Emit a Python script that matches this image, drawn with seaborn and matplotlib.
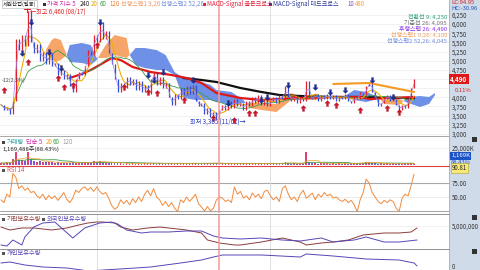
import numpy as np
import pandas as pd
import matplotlib
matplotlib.use("Agg")
import matplotlib.pyplot as plt
import seaborn as sns
from matplotlib.patches import Rectangle
from matplotlib.path import Path
from matplotlib.lines import Line2D

sns.set_theme(style="white")
plt.rcParams['font.family'] = ['Noto Sans CJK KR', 'DejaVu Sans']
plt.rcParams['axes.unicode_minus'] = False

# ---------------- data ----------------
close = [3800, 3650, 3720, 3550, 3900, 5600, 5300, 5700, 5400, 6350,
         5500, 5200, 5450, 5000, 5250, 4900, 5200, 4850, 4950, 4600,
         4750, 4500, 4650, 4300, 4150, 4500, 4700, 4600, 4850, 5300,
         5150, 5700, 5500, 6050, 5600, 5800, 5200, 4900, 4500, 4150,
         4400, 4250, 4550, 4350, 4500, 4200, 4450, 4150, 4350, 4100,
         4500, 4700, 4350, 4550, 4250, 4400, 4000, 3800, 4100, 3950,
         4250, 4050, 4300, 4100, 4350, 3900, 3750, 3850, 3550, 3700,
         3450, 3600, 3400, 3650, 3800, 3650, 3900, 3700, 3950, 3750,
         3850, 3650, 3900, 3750, 4000, 3850, 4050, 3800, 3950, 3750,
         3900, 4000, 3850, 4050, 3950, 4300, 4000, 3900, 4050, 3850,
         4000, 3900, 4450, 4000, 3950, 4100, 3900, 4050, 3950, 4100,
         3950, 4050, 3900, 4000, 3950, 4100, 3900, 3850, 4000, 3950,
         4150, 4050, 4300, 4400, 4150, 3950, 3750, 3850, 3950, 4050,
         3900, 3950, 3800, 3650, 3800, 3700, 3950, 4250, 4490]

volume_k = [3000, 2500, 4000, 3500, 9000, 19000, 8000, 7000, 6000, 19000,
            9000, 6000, 5000, 6500, 4500, 5000, 4000, 4500, 3500, 4000,
            3000, 3500, 2500, 3000, 4000, 3000, 2500, 3000, 4500, 5000,
            3500, 5500, 4000, 6000, 4500, 3500, 3000, 4000, 3500, 3000,
            2500, 2000, 2500, 2000, 3000, 2000, 2500, 2000, 2500, 3000,
            2500, 3500, 2000, 2500, 2000, 2000, 2500, 3000, 2000, 2500,
            2000, 2500, 2000, 2500, 3000, 2500, 2000, 2500, 3000, 2500,
            3500, 2500, 3000, 2000, 2500, 2000, 2500, 2000, 3000, 2500,
            2000, 2500, 2000, 2500, 2000, 2500, 2000, 2500, 2000, 2500,
            2000, 2500, 2000, 2500, 3500, 4500, 2500, 2000, 2500, 2000,
            2500, 3000, 19000, 5000, 3000, 2500, 2000, 2500, 3000, 2500,
            2000, 2500, 2000, 2500, 2000, 2500, 2000, 2500, 3000, 2500,
            3000, 3500, 5000, 4500, 3000, 2500, 2000, 2500, 2000, 2500,
            2000, 2500, 2000, 2500, 2000, 2500, 3000, 3500, 1169]

rsi14 = [45, 40, 55, 50, 92, 85, 65, 70, 62, 66,
         58, 60, 52, 48, 55, 45, 53, 47, 52, 44,
         50, 58, 46, 40, 48, 62, 58, 65, 68, 62,
         67, 60, 68, 60, 55, 58, 48, 35, 28, 32,
         45, 38, 44, 36, 47, 40, 50, 42, 55, 62,
         52, 65, 50, 45, 35, 42, 33, 40, 30, 24,
         45, 40, 50, 42, 48, 55, 38, 32, 25, 33,
         25, 30, 45, 50, 48, 42, 45, 40, 68, 55,
         60, 48, 52, 45, 57, 50, 55, 47, 60, 62,
         52, 45, 50, 42, 65, 70, 55, 45, 50, 42,
         55, 62, 48, 52, 57, 45, 55, 50, 58, 52,
         55, 48, 50, 45, 42, 46, 40, 44, 36, 24,
         45, 58, 82, 75, 58, 50, 42, 38, 44, 40,
         45, 42, 30, 24, 48, 55, 52, 70, 91]

ma120_session = [23, 27, 30, 33, 37, 40, 44, 50, 57, 62, 67, 72, 80, 87, 93, 100, 110, 120, 123, 130, 138]
ma120_value = [4528, 4638, 4747, 4884, 5075, 5020, 4829, 4692, 4610, 4528, 4392, 4118,
               3982, 3927, 3954, 3982, 4009, 4009, 3954, 3982, 4009]

ma240_session = [61, 67, 72, 80, 87, 93, 100, 110, 120, 130, 138]
ma240_value = [4528, 4474, 4419, 4255, 4146, 4064, 4036, 4009, 4009, 3982, 3982]

cloud_session = [15, 17, 18, 20, 22, 23, 27, 30, 32, 35, 38, 42, 43, 45, 48, 52, 55, 58, 61, 65,
                 70, 72, 77, 81, 83, 87, 92, 97, 100, 105, 110, 115, 118, 122, 126, 128, 133, 136,
                 140, 143, 145]
span1 = [5293, 5567, 5621, 5567, 5157, 4965, 4938, 4884, 5020, 5430, 5703, 5621, 5157, 4884,
         4801, 4747, 4747, 4610, 3982, 3927, 3927, 3872, 3790, 3845, 3845, 3845, 3818, 4118,
         4009, 3982, 4036, 4009, 3927, 3872, 3954, 3927, 3954, 3845, 3736, 3818, 4064]
span2 = [5239, 5075, 4965, 5020, 5157, 5430, 5485, 5430, 5075, 5075, 5157, 5075, 5157, 5348,
         5348, 5293, 5157, 4692, 4528, 4474, 4337, 4200, 4146, 3927, 3708, 3654, 3599, 3927,
         3927, 3927, 3982, 4036, 4200, 4146, 4009, 3818, 3790, 4009, 4036, 4009, 4118]

trend_session = [111, 123, 138]
trend_value = [4364, 4392, 4146]

dead_session = [10, 7, 16, 33, 20, 49, 51, 54, 64, 76, 87, 89, 96, 105, 110, 115, 124, 131]
dead_value = [6059, 5211, 5239, 6059, 4801, 4610, 4474, 4692, 4474, 3845, 3927, 4009, 4337,
              4282, 4146, 4200, 4474, 4009]
golden_session = [1, 9, 19, 21, 24, 32, 41, 49, 52, 61, 71, 78, 83, 85, 101, 109, 112, 120, 129, 133]
golden_value = [4200, 4965, 4528, 4282, 4337, 5430, 4282, 4146, 4118, 3927, 3435, 3380, 3572,
                3572, 3708, 3845, 3790, 3654, 3708, 3599]

inst_session = [0, 3, 7, 11, 17, 22, 26, 29, 32, 34, 38, 40, 44, 49, 53, 56, 62, 67, 69, 73,
                78, 80, 87, 94, 100, 102, 107, 111, 116, 121, 128, 133, 137, 139]
inst_value_m = [4.9, 4.6, 4.8, 4.8, 4.6, 4.8, 5.1, 5.3, 5.4, 5.4, 5.3, 4.9, 4.6, 4.8, 4.9, 4.8,
                4.6, 4.3, 3.6, 3.3, 3.1, 3.1, 3.4, 3.8, 3.4, 3.1, 3.3, 3.4, 3.6, 4.1, 4.3, 4.3,
                4.4, 4.8]
frgn_session = [0, 2, 4, 7, 8, 11, 14, 18, 21, 24, 28, 33, 37, 39, 42, 47, 50, 56, 62, 67,
                71, 74, 80, 87, 94, 100, 107, 111, 118, 122, 128, 133, 139]
frgn_value_m = [3.1, 3.0, 3.6, 3.1, 3.9, 4.9, 5.3, 5.4, 4.6, 3.8, 4.8, 5.3, 5.4, 5.2, 4.6, 4.3,
                4.4, 4.4, 4.5, 4.5, 4.0, 3.8, 3.7, 3.8, 3.6, 3.5, 3.8, 3.4, 3.6, 3.9, 3.4, 3.4, 3.6]
indiv_session = [0, 3, 8, 14, 22, 27, 33, 39, 45, 50, 60, 67, 71, 74, 78, 87, 100, 102, 111,
                 122, 133, 138, 139]
indiv_value_m = [0.6, 0.8, 0.2, -0.2, -0.4, -0.8, -1.4, -1.0, -0.4, -0.2, 0.6, 1.2, 1.8, 2.2,
                 2.2, 2.2, 1.8, 2.4, 2.0, 1.4, 1.2, 0.6, 0.0]

price_ticks = [3000, 3250, 3500, 3750, 4000, 4250, 4500, 4750, 5000, 5250, 5500, 5750, 6000, 6250]
hidden_price_ticks = [4250, 4500]
last_price = 4490
last_change = "0.11%"

# ---------------- figure ----------------
W, H = 480, 270
PANEL_X = 449
fig = plt.figure(figsize=(W / 100, H / 100), dpi=100)
fig.patch.set_facecolor('white')

fig.patches.append(Rectangle((PANEL_X / W, 0), 1 - PANEL_X / W, 1, transform=fig.transFigure,
                             facecolor='#cfdbe8', edgecolor='none', zorder=-5))
fig.lines.append(Line2D([PANEL_X / W, PANEL_X / W], [0, 1], transform=fig.transFigure,
                        color='#9fb0c4', lw=0.6, zorder=-4))


def add_ax(top, bottom):
    return fig.add_axes([0, 1 - bottom / H, PANEL_X / W, (bottom - top) / H])


def style(ax, ylim, ticks, labels):
    ax.set_xlim(-0.3, PANEL_X / 3)
    ax.set_ylim(*ylim)
    ax.set_facecolor('white')
    for sp in ax.spines.values():
        sp.set_visible(False)
    ax.set_xticks([])
    ax.yaxis.tick_right()
    ax.set_yticks(ticks)
    ax.set_yticklabels(labels)
    ax.tick_params(axis='y', length=0, pad=2.2, labelsize=4.4, labelcolor='#333333',
                   right=True, left=False, labelright=True, labelleft=False)
    ax.set_xlabel('')
    ax.set_ylabel('')


def vlines_common(ax):
    for s in (32, 90):
        ax.axvline(s, color='#d9d9d9', lw=0.6, zorder=0.5)
    ax.axvline(73, color='#f29a9a', lw=1.1, zorder=6)


df = pd.DataFrame({'s': np.arange(len(close)), 'close': close, 'vol': volume_k, 'rsi': rsi14})
df['prev'] = df['close'].shift(1).fillna(df['close'])
df['up'] = df['close'] >= df['prev']
df['ma5'] = df['close'].rolling(2, min_periods=1).mean()
df['ma20'] = df['close'].rolling(5, min_periods=1).mean()
df['ma60'] = df['close'].rolling(15, min_periods=1).mean()
df['vma5'] = df['vol'].rolling(5, min_periods=1).mean()
df['vma20'] = df['vol'].rolling(15, min_periods=1).mean()

# ---------------- main price panel ----------------
ax_p = add_ax(0, 136)
for t in price_ticks:
    ax_p.axhline(t, color='#ececec', lw=0.5, zorder=0)
vlines_common(ax_p)

c_s = np.array(cloud_session)
s1 = np.array(span1)
s2 = np.array(span2)
ax_p.fill_between(c_s, s1, s2, where=s1 >= s2, interpolate=True, color='#f6a468', lw=0, zorder=1)
ax_p.fill_between(c_s, s1, s2, where=s1 < s2, interpolate=True, color='#6e90e6', lw=0, zorder=1)

sns.lineplot(x=ma240_session, y=ma240_value, ax=ax_p, color='#111111', lw=1.6, legend=False, zorder=2)
sns.lineplot(x=ma120_session, y=ma120_value, ax=ax_p, color='#e01818', lw=1.6, legend=False, zorder=2)
sns.lineplot(data=df, x='s', y='ma60', ax=ax_p, color='#3c9c4a', lw=0.6, legend=False, zorder=2)
sns.lineplot(data=df, x='s', y='ma20', ax=ax_p, color='#f0b000', lw=0.8, legend=False, zorder=2)

colors = np.where(df['up'], '#e3202b', '#2a4fd6')
ax_p.vlines(df['s'], df['prev'], df['close'], colors=colors, lw=0.9, zorder=3)
sns.lineplot(data=df, x='s', y='ma5', ax=ax_p, color='#9d86e8', lw=0.5, legend=False, zorder=3)

sns.lineplot(x=trend_session, y=trend_value, ax=ax_p, color='#f59a23', lw=1.5, legend=False, zorder=4)

up_arrow = Path([(0, 1), (0.9, 0.1), (0.35, 0.1), (0.35, -1), (-0.35, -1), (-0.35, 0.1), (-0.9, 0.1), (0, 1)])
down_arrow = Path([(0, -1), (0.9, -0.1), (0.35, -0.1), (0.35, 1), (-0.35, 1), (-0.35, -0.1), (-0.9, -0.1), (0, -1)])
ax_p.plot(golden_session, golden_value, ls='none', marker=up_arrow, ms=4.2, color='#d0142a',
          mec='#a00010', mew=0.2, zorder=5)
ax_p.plot(dead_session, dead_value, ls='none', marker=down_arrow, ms=4.2, color='#1b2e9c',
          mec='#101c70', mew=0.2, zorder=5)

style(ax_p, (2943, 6660), price_ticks,
      ['' if t in hidden_price_ticks else f'{t:,}' for t in price_ticks])

ax_p.plot([8.7, 8.7], [6330, 6700], color='#e02020', lw=0.8, zorder=6)
ax_p.plot([7.7, 9.7], [6420, 6420], color='#e02020', lw=0.8, zorder=6)
ax_p.text(9.6, 6330, '←최고 6,460 (08/17)', color='#e02020', fontsize=4.4, va='center', ha='left', zorder=7)
ax_p.text(63.3, 3326, '최저 3,365 (11/01)→', color='#2030c0', fontsize=4.4, va='center', ha='left', zorder=7)
ax_p.text(0.2, 4474, '-12(2.3%)', color='#444444', fontsize=3.8, va='center', ha='left', zorder=7)

yt = ax_p.get_yaxis_transform()
ax_p.text(1.003, last_price, f'{last_price:,}', transform=yt, color='white', fontsize=4.6,
          fontweight='bold', va='center', ha='left',
          bbox=dict(boxstyle='square,pad=0.25', fc='#e01818', ec='none'), zorder=8, clip_on=False)
ax_p.text(1.012, last_price - 300, last_change, transform=yt, color='#e01818', fontsize=4.2,
          va='center', ha='left', clip_on=False)

# ---------------- volume panel ----------------
ax_v = add_ax(137, 165)
ax_v.axhline(25000, color='#ececec', lw=0.5, zorder=0)
vlines_common(ax_v)
ax_v.bar(df['s'], df['vol'], width=0.55, color=np.where(df['up'], '#e0407a', '#7a5ad0'), lw=0, zorder=2)
sns.lineplot(data=df, x='s', y='vma20', ax=ax_v, color='#3c9c4a', lw=0.6, legend=False, zorder=3)
sns.lineplot(data=df, x='s', y='vma5', ax=ax_v, color='#f0a020', lw=0.5, legend=False, zorder=3)
style(ax_v, (0, 41000), [25000], ['25,000K'])

# ---------------- RSI panel ----------------
ax_r = add_ax(166, 213)
ax_r.axhline(50, color='#e6e6e6', lw=0.5, zorder=0)
ax_r.axhline(75, color='#a8a8a8', lw=0.8, zorder=0)
ax_r.axhline(25, color='#a8a8a8', lw=0.8, zorder=0)
vlines_common(ax_r)
sns.lineplot(data=df, x='s', y='rsi', ax=ax_r, color='#f08a3c', lw=0.7, legend=False, zorder=3)
style(ax_r, (21.4, 105.4), [75, 50], ['75.00', '50.00'])

# ---------------- holdings panels ----------------
ax_h = add_ax(214, 249)
ax_h.axhline(5.0, color='#ececec', lw=0.5, zorder=0)
vlines_common(ax_h)
sns.lineplot(x=inst_session, y=inst_value_m, ax=ax_h, color='#8c3a3a', lw=0.7, legend=False, zorder=3)
sns.lineplot(x=frgn_session, y=frgn_value_m, ax=ax_h, color='#5546b8', lw=0.7, legend=False, zorder=3)
style(ax_h, (2.7, 6.2), [5.0], ['5,000,000'])

ax_i = add_ax(249, 270)
vlines_common(ax_i)
sns.lineplot(x=indiv_session, y=indiv_value_m, ax=ax_i, color='#5546b8', lw=0.7, legend=False, zorder=3)
style(ax_i, (-0.8, 3.4), [0.0], ['0'])

# ---------------- separators ----------------
for py, col in ((136, '#a8a8a8'), (214, '#909090'), (249, '#909090')):
    fig.lines.append(Line2D([0, PANEL_X / W], [1 - py / H, 1 - py / H], transform=fig.transFigure,
                            color=col, lw=0.7, zorder=10))
fig.lines.append(Line2D([0, PANEL_X / W], [1 - 166 / H, 1 - 166 / H], transform=fig.transFigure,
                        color='#e04040', lw=0.8, zorder=10))


def ftext(px, py, s, color, size=4.5, **kw):
    fig.text(px / W, 1 - py / H, s, color=color, fontsize=size, va='center', ha='left', zorder=20, **kw)


def bullet(px, py, color='#555555'):
    fig.patches.append(Rectangle((px / W, 1 - (py + 1.5) / H), 3 / W, 3 / H, transform=fig.transFigure,
                                 facecolor=color, edgecolor='none', zorder=20))


# header of price panel
ftext(3, 4, '세원산업(일봉)', '#222222', 3.9,
      bbox=dict(boxstyle='square,pad=0.15', fc='white', ec='#b0b0b0', lw=0.4))
bullet(43, 4, '#333333')
ftext(47, 4, '가격 지수 5', '#d02ca6', 4.4)
ftext(80, 4, '240', '#222222', 4.4)
ftext(91, 4, '20', '#e0a800', 4.4)
ftext(100, 4, '60', '#3c9c4a', 4.4)
ftext(109, 4, '120', '#f08030', 4.4)
ftext(121, 4, '선행스팬1 9,26', '#f29a68', 4.4)
ftext(161, 4, '선행스팬2 52,26', '#6f8fdc', 4.4)
bullet(203, 4, '#e0203a')
ftext(207, 4, 'MACD-Signal 골든크로스', '#e0203a', 4.4)
bullet(269, 4, '#2a3a9a')
ftext(273, 4, 'MACD-Signal 데드크로스', '#2a3a9a', 4.4)
ftext(347, 4, '10', '#8050c0', 4.4)
ftext(355, 4, '480', '#f0a030', 4.4)

for py, s, col in ((17, '전환선 9: 4,250', '#2a9a7a'),
                   (23, '기준선 26: 4,095', '#707070'),
                   (29, '후행스팬 26: 4,490', '#8a2be2'),
                   (35, '선행스팬1 9,26: 4,100', '#f0a060'),
                   (41, '선행스팬2 52,26: 4,045', '#6a8ad8')):
    fig.text(447 / W, 1 - py / H, s, color=col, fontsize=4.3, va='center', ha='right', zorder=20)

ftext(451, 3, 'LC:94.95', '#d02020', 4.2)
ftext(451, 9, 'HC:-30.96', '#2050c0', 4.2)

# volume header
bullet(2, 142, '#444444')
ftext(7, 142, '거래량', '#2aa0a0')
ftext(26, 142, '단순 5', '#d030b0')
ftext(46, 142, '20', '#f0a020')
ftext(53, 142, '60', '#3c9c4a')
ftext(62, 142, '120', '#a0a0a0')
ftext(2, 149, '1,169,488주(88.43%)', '#222222', 4.3)
ftext(451, 156, '1,169K', 'white', 4.3,
      bbox=dict(boxstyle='square,pad=0.2', fc='#1c54c8', ec='none'))
ftext(451, 162, '88.43%', '#1c54c8', 4.2)

# RSI header
bullet(2, 170, '#555555')
ftext(7, 170, 'RSI 14', '#e05050', 4.4)
ftext(452, 168, '90.81', '#222222', 4.4,
      bbox=dict(boxstyle='square,pad=0.2', fc='#f8e878', ec='#b09a30', lw=0.4))

# holdings headers
bullet(2, 219)
ftext(7, 219, '기관보유수량', '#8c3a3a')
bullet(42, 219)
ftext(47, 219, '외국인보유수량', '#5546b8')
bullet(2, 253)
ftext(7, 253, '개인보유수량', '#5546b8')

for py in (139, 217, 251):
    fig.patches.append(Rectangle((472 / W, 1 - (py + 2.5) / H), 5 / W, 5 / H, transform=fig.transFigure,
                                 facecolor='#333333', edgecolor='none', zorder=15))

fig.savefig('out.png', dpi=100, facecolor='white')
